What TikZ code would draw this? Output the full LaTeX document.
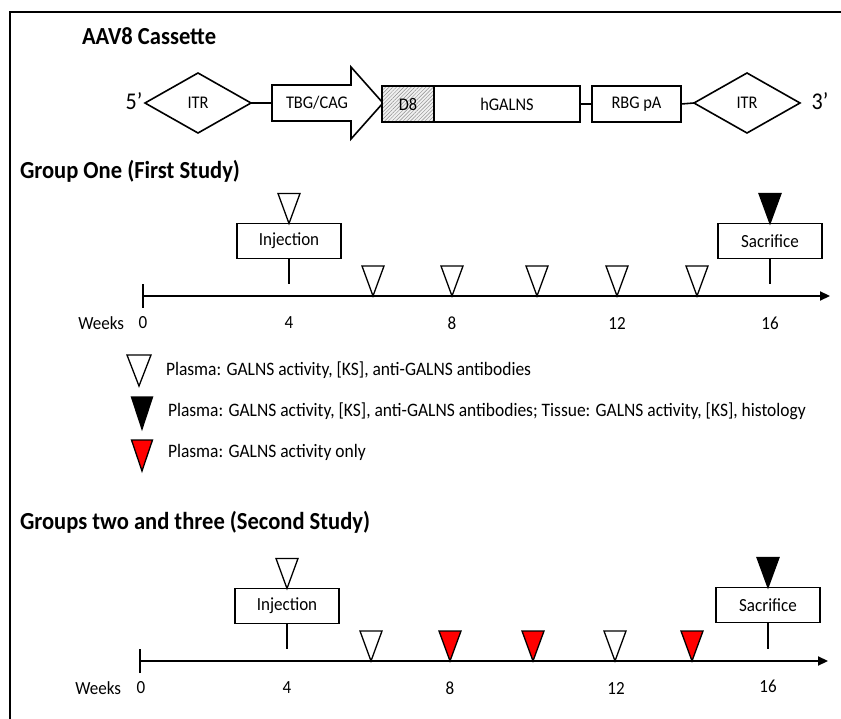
\documentclass[tikz,border=0pt]{standalone}
\usepackage{fontspec}
\setmainfont{Carlito}[FakeStretch=0.92]
\usetikzlibrary{shapes.geometric,arrows.meta,patterns,patterns.meta}
\newcommand\titfont{\fontsize{24.5}{28}\selectfont\bfseries}
\newcommand\labfont{\fontsize{18.5}{22}\selectfont}
\newcommand\casfont{\fontsize{17.8}{21}\selectfont}
\newcommand\legfont{\fontsize{19}{22}\selectfont}
\newcommand\primefont{\fontsize{24}{28}\selectfont}
\newcommand\trimark[2]{\draw[marker,fill=#1] (#2) -- ++(-11,-30) -- ++(22,0) -- cycle;}
\begin{document}
\begin{tikzpicture}[x=1pt,y=-1pt,
  every node/.style={inner sep=0pt,outer sep=0pt},
  frame/.style={line width=1.3pt},
  box/.style={draw,line width=1.8pt,fill=white,minimum width=104pt,minimum height=35pt,font=\labfont},
  cbox/.style={draw,line width=1.6pt,fill=white,minimum height=36pt,font=\casfont},
  itr/.style={draw,diamond,line width=1.6pt,minimum width=106pt,minimum height=60pt,font=\casfont,fill=white},
  axisline/.style={line width=2.2pt,-{Triangle[length=10pt,width=9pt]}},
  tickline/.style={line width=2pt},
  marker/.style={line width=1.3pt,line join=miter},
  wk/.style={font=\labfont},
  title/.style={font=\titfont,anchor=west},
  leg/.style={font=\legfont,anchor=west}]
\useasboundingbox (0,0) rectangle (841,719);
% frame
\draw[frame] (10,719) -- (10,12) -- (841,12);
% ---------- cassette ----------
\node[title] (t0) at (82,36) {AAV8 Cassette};
\node[font=\primefont] (p5) at (134,101) {5’};
\node[itr] (itr1) at (198,103) {ITR};
\node[font=\casfont] (tbg) at (317,103) {TBG/CAG};
\draw[line width=1.6pt,line join=miter] (272,85) -- (351,85) -- (351,67) -- (383,103) -- (351,139) -- (351,121) -- (272,121) -- cycle;
\coordinate (tbgw) at (272,103);
\node[cbox,minimum width=52pt,anchor=west,preaction={fill=gray!12},pattern={Lines[angle=45,distance=2.6pt,line width=0.45pt]},pattern color=gray!90] (d8) at (382,104) {D8};
\node[cbox,minimum width=146pt,anchor=west] (hg) at (d8.east) {hGALNS};
\node[cbox,minimum width=89pt,anchor=west] (rbg) at (592,104) {RBG pA};
\node[itr] (itr2) at (747,103) {ITR};
\node[font=\primefont] (p3) at (820,101) {3’};
\draw[line width=1.6pt] (itr1.east) -- (tbgw);
\draw[line width=1.6pt] (hg.east) -- (rbg.west);
\draw[line width=1.6pt] (rbg.east) -- (itr2.west);
% ---------- group one ----------
\node[title] (t1) at (20,171) {Group One (First Study)};
\coordinate (a0) at (143,296);
\coordinate (a4) at (289,296);
\coordinate (a8) at (452,296);
\coordinate (a12) at (617,296);
\coordinate (a16) at (770,296);
\coordinate (aend) at (830,296);
\draw[axisline] (a0) -- (aend);
\node[box] (inj1) at (289,241) {Injection};
\node[box] (sac1) at (770,241) {Sacrifice};
\draw[tickline] ([yshift=-12pt]a0) -- ([yshift=12pt]a0);
\draw[tickline] (inj1.south) -- ([yshift=12pt]a4);
\draw[tickline] (a8) -- ([yshift=12pt]a8);
\draw[tickline] (a12) -- ([yshift=12pt]a12);
\draw[tickline] (sac1.south) -- ([yshift=12pt]a16);
\trimark{white}{inj1.north}
\trimark{black}{sac1.north}
\coordinate (m6) at (373,296);
\coordinate (m10) at (537,296);
\coordinate (m14) at (697,296);
\trimark{white}{m6}
\trimark{white}{a8}
\trimark{white}{m10}
\trimark{white}{a12}
\trimark{white}{m14}
\node[wk,anchor=east] (wks1) at (124,323) {Weeks};
\node[wk] (n0a) at (143,323) {0};
\node[wk] (n4a) at (289,323) {4};
\node[wk] (n8a) at (452,323) {8};
\node[wk] (n12a) at (617,323) {12};
\node[wk] (n16a) at (770,323) {16};
% ---------- legend ----------
\coordinate (l1) at (139,386);
\coordinate (l2) at (142,429);
\coordinate (l3) at (142,471);
\draw[marker,fill=white] (l1) -- ++(-12,-31) -- ++(24,0) -- cycle;
\draw[marker,fill=black] (l2) -- ++(-10.5,-32) -- ++(21,0) -- cycle;
\draw[marker,fill=red] (l3) -- ++(-10.5,-31) -- ++(21,0) -- cycle;
\node[leg] (lt1) at (166,370) {Plasma: GALNS activity, [KS], anti-GALNS antibodies};
\node[leg] (lt2) at (168,411) {Plasma: GALNS activity, [KS], anti-GALNS antibodies; Tissue: GALNS activity, [KS], histology};
\node[leg] (lt3) at (168,452) {Plasma: GALNS activity only};
% ---------- groups two and three ----------
\node[title] (t2) at (20,522) {Groups two and three (Second Study)};
\coordinate (b0) at (140,661);
\coordinate (b4) at (287,661);
\coordinate (b8) at (450,661);
\coordinate (b12) at (615,661);
\coordinate (b16) at (768,661);
\coordinate (bend) at (828,661);
\draw[axisline] (b0) -- (bend);
\node[box] (inj2) at (287,606) {Injection};
\node[box] (sac2) at (768,605) {Sacrifice};
\draw[tickline] ([yshift=-12pt]b0) -- ([yshift=12pt]b0);
\draw[tickline] (inj2.south) -- ([yshift=12pt]b4);
\draw[tickline] (b8) -- ([yshift=12pt]b8);
\draw[tickline] (b12) -- ([yshift=12pt]b12);
\draw[tickline] (sac2.south) -- ([yshift=12pt]b16);
\trimark{white}{inj2.north}
\trimark{black}{sac2.north}
\coordinate (c6) at (371,661);
\coordinate (c10) at (533,661);
\coordinate (c14) at (692,661);
\trimark{white}{c6}
\trimark{red}{b8}
\trimark{red}{c10}
\trimark{white}{b12}
\trimark{red}{c14}
\node[wk,anchor=east] (wks2) at (121,688) {Weeks};
\node[wk] (n0b) at (141,688) {0};
\node[wk] (n4b) at (287,688) {4};
\node[wk] (n8b) at (450,688) {8};
\node[wk] (n12b) at (616,688) {12};
\node[wk] (n16b) at (768,686) {16};
\end{tikzpicture}
\end{document}
